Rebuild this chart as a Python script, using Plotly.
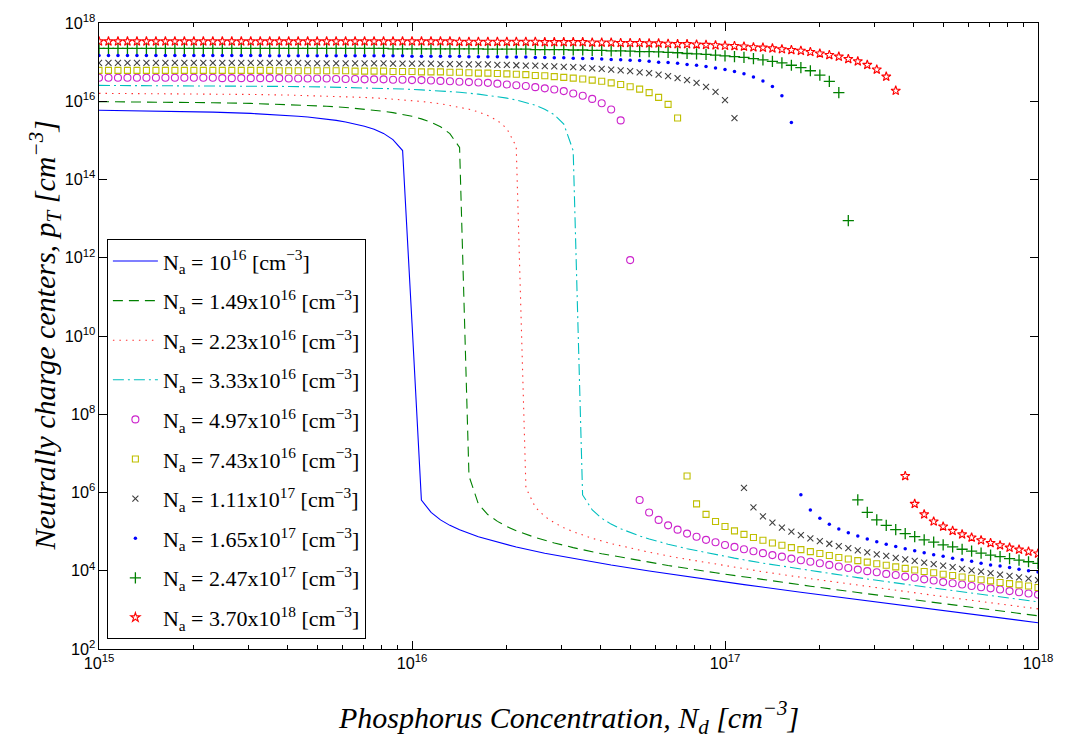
import numpy as np
import plotly.graph_objects as go

# Donor (phosphorus) concentration sweep in cm^-3: 100 log-spaced samples
ND_SWEEP = np.logspace(15, 18, 100)

# ---- Continuous curves: log10(Nd) and log10(p_T) ----
ND_EXP_100 = [15.000, 15.121, 15.242, 15.364, 15.485, 15.545, 15.606, 15.636, 15.667, 15.697,
              15.727, 15.758, 15.788, 15.818, 15.848, 15.879, 15.909, 15.939, 15.970, 16.000,
              16.030, 16.061, 16.091, 16.121, 16.152, 16.212, 16.273, 16.333, 16.424, 16.515,
              16.636, 16.758, 16.909, 17.061, 17.242, 17.424, 17.636, 17.818, 18.000]
PT_EXP_100 = [15.77, 15.76, 15.745, 15.723, 15.689, 15.666, 15.636, 15.618, 15.597, 15.573,
              15.545, 15.511, 15.471, 15.423, 15.362, 15.284, 15.178, 15.021, 14.740, 10.33,
              5.808, 5.492, 5.300, 5.160, 5.047, 4.868, 4.726, 4.605, 4.448, 4.311,
              4.145, 3.993, 3.816, 3.646, 3.451, 3.260, 3.041, 2.856, 2.672]

ND_EXP_149 = [15.000, 15.121, 15.242, 15.364, 15.485, 15.606, 15.667, 15.727, 15.788, 15.848,
              15.879, 15.909, 15.939, 15.970, 16.000, 16.030, 16.061, 16.091, 16.121, 16.152,
              16.182, 16.212, 16.242, 16.273, 16.303, 16.333, 16.364, 16.394, 16.455, 16.515,
              16.606, 16.697, 16.818, 16.970, 17.121, 17.273, 17.424, 17.576, 17.727, 17.879,
              18.000]
PT_EXP_149 = [15.99, 15.985, 15.976, 15.963, 15.945, 15.916, 15.897, 15.873, 15.841, 15.800,
              15.775, 15.745, 15.709, 15.667, 15.615, 15.550, 15.465, 15.349, 15.171, 14.821,
              6.423, 5.708, 5.437, 5.262, 5.130, 5.022, 4.930, 4.849, 4.710, 4.591,
              4.436, 4.300, 4.135, 3.948, 3.773, 3.605, 3.443, 3.284, 3.127, 2.972,
              2.848]

ND_EXP_223 = [15.000, 15.121, 15.242, 15.364, 15.485, 15.606, 15.667, 15.727, 15.788, 15.848,
              15.909, 15.970, 16.030, 16.091, 16.152, 16.182, 16.212, 16.242, 16.273, 16.303,
              16.333, 16.364, 16.394, 16.424, 16.455, 16.485, 16.515, 16.545, 16.576, 16.636,
              16.697, 16.758, 16.848, 16.970, 17.121, 17.273, 17.424, 17.576, 17.727, 17.879,
              18.000]
PT_EXP_223 = [16.202, 16.198, 16.193, 16.185, 16.174, 16.158, 16.147, 16.134, 16.118, 16.097,
              16.072, 16.038, 15.995, 15.936, 15.853, 15.797, 15.727, 15.636, 15.507, 15.302,
              14.844, 6.118, 5.625, 5.388, 5.226, 5.101, 4.998, 4.909, 4.830, 4.694,
              4.577, 4.473, 4.333, 4.165, 3.975, 3.798, 3.630, 3.467, 3.307, 3.150,
              3.026]

ND_EXP_333 = [15.000, 15.152, 15.303, 15.455, 15.606, 15.727, 15.848, 15.909, 15.970, 16.030,
              16.091, 16.152, 16.212, 16.273, 16.303, 16.333, 16.364, 16.394, 16.424, 16.455,
              16.485, 16.515, 16.545, 16.576, 16.606, 16.636, 16.667, 16.697, 16.727, 16.758,
              16.818, 16.879, 16.939, 17.030, 17.121, 17.273, 17.424, 17.576, 17.727, 17.879,
              18.000]
PT_EXP_333 = [16.405, 16.402, 16.397, 16.389, 16.378, 16.364, 16.344, 16.330, 16.313, 16.291,
              16.264, 16.229, 16.182, 16.120, 16.080, 16.032, 15.972, 15.897, 15.797, 15.654,
              15.416, 14.736, 5.938, 5.554, 5.342, 5.192, 5.073, 4.974, 4.888, 4.812,
              4.679, 4.564, 4.461, 4.322, 4.195, 4.003, 3.824, 3.655, 3.491, 3.331,
              3.205]

# ---- Marker curves on ND_SWEEP: log10(p_T) ----
PT_EXP_497 = [16.60, 16.60, 16.60, 16.60, 16.60, 16.60, 16.60, 16.60, 16.60, 16.60,
              16.60, 16.60, 16.60, 16.59, 16.59, 16.59, 16.59, 16.59, 16.59, 16.59,
              16.58, 16.58, 16.58, 16.58, 16.58, 16.57, 16.57, 16.57, 16.56, 16.56,
              16.56, 16.55, 16.55, 16.54, 16.54, 16.53, 16.52, 16.51, 16.50, 16.49,
              16.48, 16.47, 16.45, 16.43, 16.41, 16.39, 16.36, 16.33, 16.30, 16.26,
              16.20, 16.14, 16.06, 15.95, 15.79, 15.51, 11.94, 5.81, 5.49, 5.30,
              5.16, 5.05, 4.95, 4.87, 4.79, 4.73, 4.66, 4.61, 4.55, 4.50,
              4.45, 4.40, 4.36, 4.31, 4.27, 4.23, 4.19, 4.15, 4.11, 4.07,
              4.03, 3.99, 3.96, 3.92, 3.89, 3.85, 3.82, 3.78, 3.75, 3.71,
              3.68, 3.65, 3.61, 3.58, 3.55, 3.52, 3.48, 3.45, 3.42, 3.39]

PT_EXP_743 = [16.79, 16.79, 16.79, 16.79, 16.79, 16.79, 16.79, 16.79, 16.79, 16.79,
              16.79, 16.79, 16.79, 16.79, 16.79, 16.79, 16.79, 16.79, 16.79, 16.78,
              16.78, 16.78, 16.78, 16.78, 16.78, 16.78, 16.78, 16.77, 16.77, 16.77,
              16.77, 16.76, 16.76, 16.76, 16.75, 16.75, 16.75, 16.74, 16.74, 16.73,
              16.72, 16.72, 16.71, 16.70, 16.69, 16.68, 16.66, 16.65, 16.63, 16.61,
              16.59, 16.57, 16.54, 16.51, 16.47, 16.43, 16.37, 16.31, 16.22, 16.10,
              15.92, 15.57, 6.42, 5.71, 5.44, 5.26, 5.13, 5.02, 4.93, 4.85,
              4.78, 4.71, 4.65, 4.59, 4.54, 4.49, 4.44, 4.39, 4.34, 4.30,
              4.26, 4.22, 4.18, 4.14, 4.10, 4.06, 4.02, 3.98, 3.95, 3.91,
              3.88, 3.84, 3.81, 3.77, 3.74, 3.70, 3.67, 3.64, 3.61, 3.57]

PT_EXP_111 = [16.98, 16.98, 16.98, 16.98, 16.98, 16.98, 16.98, 16.98, 16.98, 16.98,
              16.98, 16.98, 16.98, 16.98, 16.98, 16.98, 16.98, 16.98, 16.98, 16.98,
              16.98, 16.98, 16.97, 16.97, 16.97, 16.97, 16.97, 16.97, 16.97, 16.97,
              16.97, 16.96, 16.96, 16.96, 16.96, 16.96, 16.95, 16.95, 16.95, 16.94,
              16.94, 16.94, 16.93, 16.93, 16.92, 16.91, 16.91, 16.90, 16.89, 16.88,
              16.87, 16.86, 16.84, 16.83, 16.81, 16.79, 16.77, 16.74, 16.72, 16.68,
              16.64, 16.59, 16.54, 16.47, 16.37, 16.24, 16.03, 15.57, 6.12, 5.62,
              5.39, 5.23, 5.10, 5.00, 4.91, 4.83, 4.76, 4.69, 4.63, 4.58,
              4.52, 4.47, 4.42, 4.38, 4.33, 4.29, 4.25, 4.21, 4.17, 4.13,
              4.09, 4.05, 4.01, 3.98, 3.94, 3.90, 3.87, 3.83, 3.80, 3.76]

PT_EXP_165 = [17.17, 17.17, 17.17, 17.17, 17.17, 17.17, 17.17, 17.17, 17.17, 17.17,
              17.17, 17.17, 17.17, 17.17, 17.17, 17.17, 17.17, 17.17, 17.16, 17.16,
              17.16, 17.16, 17.16, 17.16, 17.16, 17.16, 17.16, 17.16, 17.16, 17.16,
              17.16, 17.16, 17.16, 17.15, 17.15, 17.15, 17.15, 17.15, 17.15, 17.14,
              17.14, 17.14, 17.14, 17.13, 17.13, 17.13, 17.12, 17.12, 17.11, 17.11,
              17.10, 17.09, 17.09, 17.08, 17.07, 17.06, 17.05, 17.04, 17.02, 17.00,
              16.99, 16.97, 16.94, 16.92, 16.89, 16.85, 16.81, 16.76, 16.70, 16.62,
              16.52, 16.38, 16.14, 15.46, 5.94, 5.55, 5.34, 5.19, 5.07, 4.97,
              4.89, 4.81, 4.74, 4.68, 4.62, 4.56, 4.51, 4.46, 4.41, 4.37,
              4.32, 4.28, 4.24, 4.19, 4.15, 4.12, 4.08, 4.04, 4.00, 3.97]

PT_EXP_247 = [17.35, 17.35, 17.35, 17.35, 17.35, 17.35, 17.35, 17.35, 17.35, 17.35,
              17.35, 17.35, 17.35, 17.35, 17.35, 17.35, 17.35, 17.35, 17.35, 17.35,
              17.35, 17.35, 17.35, 17.35, 17.35, 17.35, 17.35, 17.35, 17.35, 17.35,
              17.35, 17.34, 17.34, 17.34, 17.34, 17.34, 17.34, 17.34, 17.34, 17.34,
              17.34, 17.33, 17.33, 17.33, 17.33, 17.33, 17.32, 17.32, 17.32, 17.32,
              17.31, 17.31, 17.30, 17.30, 17.29, 17.29, 17.28, 17.27, 17.27, 17.26,
              17.25, 17.24, 17.22, 17.21, 17.20, 17.18, 17.16, 17.14, 17.12, 17.09,
              17.06, 17.02, 16.98, 16.92, 16.86, 16.78, 16.67, 16.51, 16.22, 12.95,
              5.81, 5.49, 5.30, 5.16, 5.05, 4.95, 4.87, 4.79, 4.73, 4.66,
              4.61, 4.55, 4.50, 4.45, 4.40, 4.36, 4.31, 4.27, 4.23, 4.19]

PT_EXP_370 = [17.53, 17.53, 17.53, 17.53, 17.53, 17.53, 17.53, 17.53, 17.53, 17.53,
              17.53, 17.53, 17.53, 17.53, 17.53, 17.53, 17.53, 17.53, 17.53, 17.53,
              17.53, 17.53, 17.53, 17.53, 17.53, 17.53, 17.53, 17.53, 17.53, 17.53,
              17.53, 17.53, 17.53, 17.53, 17.53, 17.53, 17.53, 17.53, 17.52, 17.52,
              17.52, 17.52, 17.52, 17.52, 17.52, 17.52, 17.52, 17.51, 17.51, 17.51,
              17.51, 17.51, 17.50, 17.50, 17.50, 17.49, 17.49, 17.49, 17.48, 17.48,
              17.47, 17.46, 17.46, 17.45, 17.44, 17.43, 17.42, 17.41, 17.40, 17.38,
              17.37, 17.35, 17.33, 17.31, 17.29, 17.26, 17.22, 17.18, 17.14, 17.08,
              17.02, 16.93, 16.81, 16.63, 16.27, 6.42, 5.71, 5.44, 5.26, 5.13,
              5.02, 4.93, 4.85, 4.78, 4.71, 4.65, 4.59, 4.54, 4.49, 4.44]

LABELS = [
    "N<sub>a</sub> = 10<sup>16</sup> [cm<sup>−3</sup>]",
    "N<sub>a</sub> = 1.49x10<sup>16</sup> [cm<sup>−3</sup>]",
    "N<sub>a</sub> = 2.23x10<sup>16</sup> [cm<sup>−3</sup>]",
    "N<sub>a</sub> = 3.33x10<sup>16</sup> [cm<sup>−3</sup>]",
    "N<sub>a</sub> = 4.97x10<sup>16</sup> [cm<sup>−3</sup>]",
    "N<sub>a</sub> = 7.43x10<sup>16</sup> [cm<sup>−3</sup>]",
    "N<sub>a</sub> = 1.11x10<sup>17</sup> [cm<sup>−3</sup>]",
    "N<sub>a</sub> = 1.65x10<sup>17</sup> [cm<sup>−3</sup>]",
    "N<sub>a</sub> = 2.47x10<sup>17</sup> [cm<sup>−3</sup>]",
    "N<sub>a</sub> = 3.70x10<sup>18</sup> [cm<sup>−3</sup>]",
]


def pow10(values):
    return [10.0 ** v for v in values]


fig = go.Figure()

line_sets = [
    (ND_EXP_100, PT_EXP_100, dict(color="#0000FF", width=1.1, dash="solid")),
    (ND_EXP_149, PT_EXP_149, dict(color="#008000", width=1.1, dash="10px,6px")),
    (ND_EXP_223, PT_EXP_223, dict(color="#FF3030", width=1.1, dash="1.5px,5px")),
    (ND_EXP_333, PT_EXP_333, dict(color="#00BFBF", width=1.1, dash="11px,4px,2px,4px")),
]
for i, (nd_exp, pt_exp, style) in enumerate(line_sets):
    fig.add_trace(go.Scatter(
        x=pow10(nd_exp), y=pow10(pt_exp), mode="lines", line=style,
        name=LABELS[i], legendgroup=f"g{i}",
    ))

marker_sets = [
    (PT_EXP_497, dict(symbol="circle-open", size=7, color="#CC22CC", line=dict(width=1.1))),
    (PT_EXP_743, dict(symbol="square-open", size=6, color="#BFBF00", line=dict(width=1.1))),
    (PT_EXP_111, dict(symbol="x-thin-open", size=6, color="#404040", line=dict(width=1.1))),
    (PT_EXP_165, dict(symbol="circle", size=3.5, color="#0000FF")),
    (PT_EXP_247, dict(symbol="cross-thin-open", size=8, color="#008000", line=dict(width=1.3))),
    (PT_EXP_370, dict(symbol="star-open", size=7, color="#FF0000", line=dict(width=1.1))),
]
for j, (pt_exp, marker) in enumerate(marker_sets):
    i = j + 4
    fig.add_trace(go.Scatter(
        x=ND_SWEEP, y=pow10(pt_exp), mode="markers", marker=marker,
        name=LABELS[i], legendgroup=f"g{i}",
    ))

# Invisible anchor trace so the top axis (with its own ticks) gets drawn
fig.add_trace(go.Scatter(
    x=[1e15, 1e18], y=[1e2, 1e2], xaxis="x2", mode="markers",
    marker=dict(opacity=0), showlegend=False, hoverinfo="skip",
))

tick_font = dict(family="Liberation Sans, Arial, sans-serif", size=13, color="black")
minor_x = dict(ticks="inside", ticklen=4, tickcolor="black", dtick="D1", showgrid=False)

fig.update_layout(
    xaxis=dict(
        type="log", range=[15, 18], dtick=1, showgrid=False, zeroline=False,
        showline=True, linecolor="black", linewidth=1, mirror=True,
        ticks="inside", ticklen=8, tickwidth=1, tickcolor="black",
        exponentformat="power", showexponent="all", tickfont=tick_font,
        minor=minor_x,
    ),
    xaxis2=dict(
        type="log", range=[15, 18], dtick=1, overlaying="x", side="top",
        anchor="y", showgrid=False, zeroline=False, showline=False,
        ticks="inside", ticklen=8, tickwidth=1, tickcolor="black",
        showticklabels=False, minor=minor_x,
    ),
    yaxis=dict(
        type="log", range=[2, 18], dtick=2, showgrid=False, zeroline=False,
        showline=True, linecolor="black", linewidth=1, mirror="ticks",
        ticks="inside", ticklen=8, tickwidth=1, tickcolor="black",
        exponentformat="power", showexponent="all", tickfont=tick_font,
    ),
)

title_font = dict(family="Liberation Serif, Times New Roman, serif", size=30, color="black")
fig.add_annotation(
    text="<i>Phosphorus Concentration, N<sub>d</sub> [cm<sup>−3</sup>]</i>",
    xref="paper", yref="paper", x=0.5, y=-0.11, xanchor="center", yanchor="middle",
    showarrow=False, font=title_font,
)
fig.add_annotation(
    text="<i>Neutrally charge centers, p<sub>T</sub> [cm<sup>−3</sup>]</i>",
    xref="paper", yref="paper", x=-0.058, y=0.5, xanchor="center", yanchor="middle",
    textangle=-90, showarrow=False, font=title_font,
)

fig.update_layout(
    width=1065, height=745,
    margin=dict(l=99, r=16, t=17, b=96),
    paper_bgcolor="white", plot_bgcolor="white",
    showlegend=True,
    legend=dict(
        x=0.0084, y=0.6546, xanchor="left", yanchor="top",
        bgcolor="white", bordercolor="black", borderwidth=1,
        font=dict(family="Liberation Serif, Times New Roman, serif", size=22, color="black"),
        tracegroupgap=8, itemwidth=45,
    ),
)

fig.write_html("out.html")
